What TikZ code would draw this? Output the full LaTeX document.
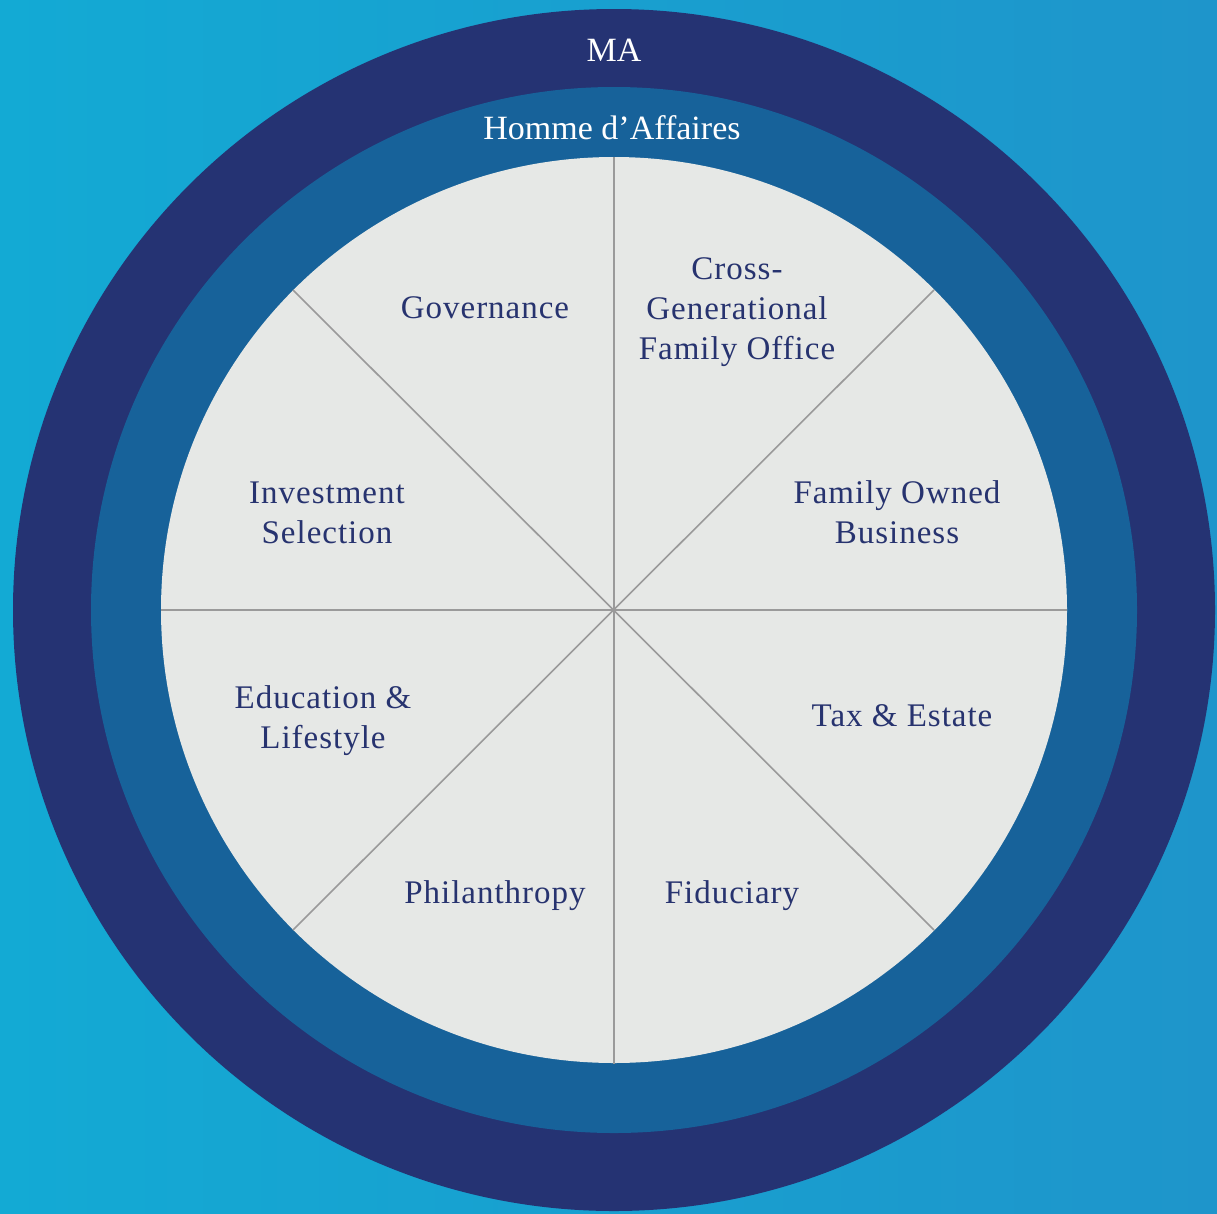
\documentclass[tikz,border=0pt]{standalone}
\usepackage{fontspec}
\setmainfont{Liberation Serif}
\newfontfamily\labfont[LetterSpace=3]{Liberation Serif}
\definecolor{bgA}{HTML}{13AAD4}
\definecolor{bgB}{HTML}{1E95CB}
\definecolor{ringout}{HTML}{253373}
\definecolor{ringmid}{HTML}{17629A}
\definecolor{discfill}{HTML}{E6E8E6}
\definecolor{spoke}{HTML}{9A9A9A}
\definecolor{labcol}{HTML}{27336F}
\tikzset{
  seglabel/.style={font=\labfont\fontsize{33}{40}\selectfont, text=labcol, align=center, anchor=base, inner sep=0pt},
  ringlabel/.style={font=\fontsize{34}{40}\selectfont, text=white, anchor=base, inner sep=0pt},
  spokeline/.style={draw=spoke, line width=1.6pt}
}
\begin{document}
\begin{tikzpicture}[x=1pt,y=-1pt]
\useasboundingbox (0,0) rectangle (1217,1213);
\shade[shading angle=135, left color=bgA, right color=bgB] (0,0) rectangle (1217,1213);
\coordinate (c) at (614,610);
\fill[ringout] (c) circle[radius=601];
\fill[ringmid] (c) circle[radius=523];
\fill[discfill] (c) circle[radius=453];
\coordinate (n) at (614,157);
\coordinate (s) at (614,1064);
\coordinate (w) at (161,610);
\coordinate (e) at (1067,610);
\coordinate (nw) at (293,290);
\coordinate (ne) at (934,290);
\coordinate (sw) at (293,930);
\coordinate (se) at (934,930);
\draw[spokeline] (n) -- (s);
\draw[spokeline] (w) -- (e);
\draw[spokeline] (nw) -- (se);
\draw[spokeline] (ne) -- (sw);
\node[ringlabel] (ma) at (614,61) {MA};
\node[ringlabel] (ha) at (612,139) {Homme d’Affaires};
\node[seglabel] (gov) at (485,318) {Governance};
\node[seglabel] (cross) at (737,359) {Cross-\\Generational\\Family Office};
\node[seglabel] (inv) at (327,543) {Investment\\Selection};
\node[seglabel] (fob) at (897,543) {Family Owned\\Business};
\node[seglabel] (edu) at (323,748) {Education \&\\Lifestyle};
\node[seglabel] (tax) at (902,726) {Tax \& Estate};
\node[seglabel] (phil) at (495,903) {Philanthropy};
\node[seglabel] (fid) at (732,903) {Fiduciary};
\end{tikzpicture}
\end{document}
